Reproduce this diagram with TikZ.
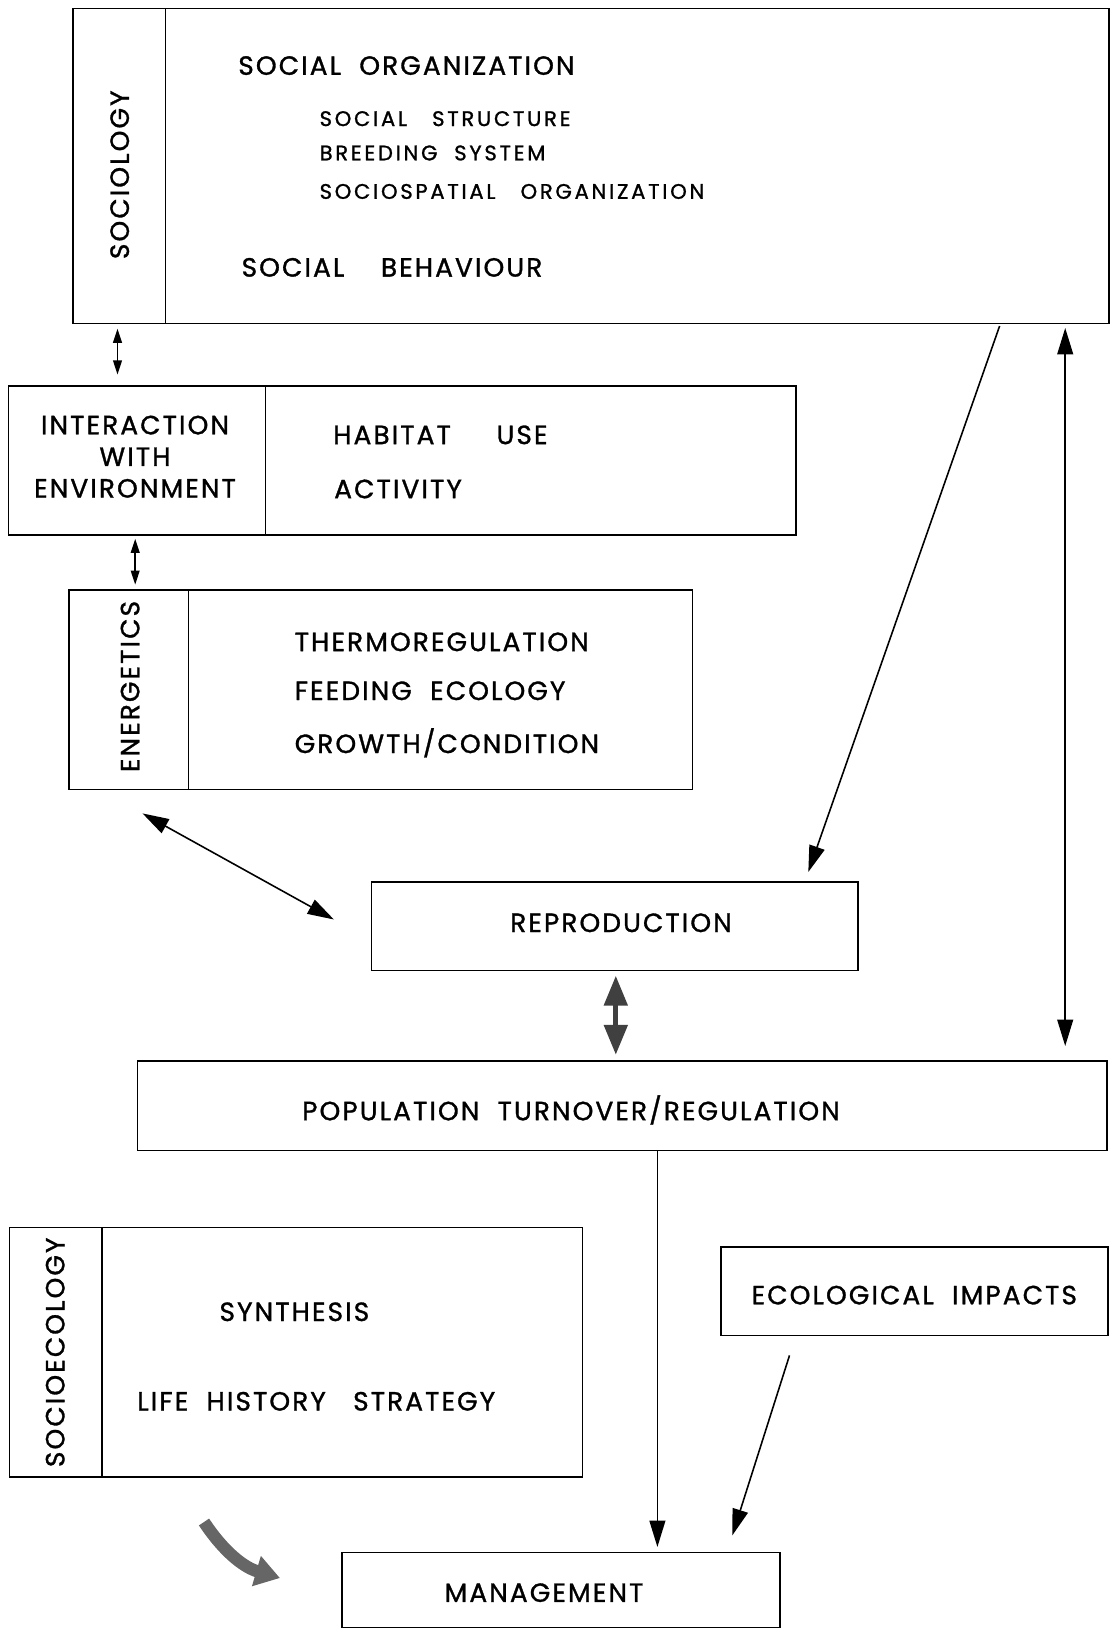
\documentclass[tikz,border=0pt]{standalone}
\usepackage{fontspec}
\setmainfont{Poppins}
\newfontfamily\capsfont[LetterSpace=8,FakeBold=1.2]{Poppins}
\newfontfamily\subfont[LetterSpace=13,FakeBold=1.2]{Poppins}
\usetikzlibrary{arrows.meta}

\begin{document}
\begin{tikzpicture}[x=0.02cm,y=-0.02cm,
  box/.style={draw,line width=0.9pt,inner sep=0pt},
  big/.style={font=\capsfont\fontsize{15}{18}\selectfont,inner sep=0pt,text depth=0pt},
  small/.style={font=\subfont\fontsize{12}{14}\selectfont,inner sep=0pt,text depth=0pt},
  thinarr/.style={line width=0.8pt,{Triangle[width=5pt,length=8pt]}-{Triangle[width=5pt,length=8pt]}},
  longarr/.style={line width=0.9pt,-{Triangle[width=9pt,length=15pt]}},
  dblarr/.style={line width=0.9pt,{Triangle[width=9pt,length=15pt]}-{Triangle[width=9pt,length=15pt]}},
  fatarr/.style={line width=3pt,black!75,{Triangle[width=13pt,length=17pt]}-{Triangle[width=13pt,length=17pt]}}]
\useasboundingbox (0,0) rectangle (1112,1631);
% boxes
\node[box,minimum width=20.72cm,minimum height=6.30cm] (sociology) at (590.85,165.9) {};
\draw[line width=0.9pt] (165.4,8.3) -- (165.4,323.5);
\node[box,minimum width=15.75cm,minimum height=2.98cm] (interaction) at (402.05,460.3) {};
\draw[line width=0.9pt] (265.3,385.9) -- (265.3,534.7);
\node[box,minimum width=12.48cm,minimum height=3.99cm] (energetics) at (380.75,689.65) {};
\draw[line width=0.9pt] (188.3,589.8) -- (188.3,789.5);
\node[box,minimum width=9.74cm,minimum height=1.77cm] (reproduction) at (614.8,926.3) {};
\node[box,minimum width=19.39cm,minimum height=1.79cm] (population) at (622.05,1105.75) {};
\node[box,minimum width=11.46cm,minimum height=4.99cm] (socioecology) at (295.95,1352.25) {};
\draw[line width=0.9pt] (101.9,1227.4) -- (101.9,1477.1);
\node[box,minimum width=7.74cm,minimum height=1.77cm] (impacts) at (914.35,1291.4) {};
\node[box,minimum width=8.76cm,minimum height=1.50cm] (management) at (561.2,1590) {};
% labels
\node[big,rotate=90] (soclbl) at (119.6,174.8) {SOCIOLOGY};
\node[big,anchor=west] (socorg) at (238,65.5) {SOCIAL~ ORGANIZATION};
\foreach \i/\y/\t in {1/118.6/SOCIAL~~ STRUCTURE,2/152.9/BREEDING~ SYSTEM,3/191.4/SOCIOSPATIAL~~ ORGANIZATION}
  \node[small,anchor=west] (sub\i) at (319.3,\y) {\t};
\node[big,anchor=west] (socbeh) at (241.3,267.3) {SOCIAL~~~ BEHAVIOUR};
\node[big,align=center] (intlbl) at (135,456.6) {INTERACTION\\WITH\\ENVIRONMENT};
\node[big,anchor=west] (habitat) at (332.9,434.8) {HABITAT~~~~ USE};
\node[big,anchor=west] (activity) at (333.9,488.9) {ACTIVITY};
\node[big,rotate=90] (enlbl) at (130,686.5) {ENERGETICS};
\foreach \i/\y/\t in {1/641.8/THERMOREGULATION,2/690.7/FEEDING~ ECOLOGY,3/740.6/{GROWTH/CONDITION}}
  \node[big,anchor=west] (en\i) at (294.4,\y) {\t};
\node[big] (replbl) at (621,922.7) {REPRODUCTION};
\node[big] (poplbl) at (571,1107.8) {POPULATION~ TURNOVER/REGULATION};
\node[big,rotate=90] (selbl) at (55.1,1352.3) {SOCIOECOLOGY};
\node[big] (synth) at (294.4,1311.7) {SYNTHESIS};
\node[big] (lifehist) at (316.2,1401.2) {LIFE~ HISTORY~~ STRATEGY};
\node[big] (implbl) at (914.3,1295) {ECOLOGICAL~ IMPACTS};
\node[big] (manlbl) at (544,1592.6) {MANAGEMENT};
% connectors
\coordinate (a1) at (117.5,328.7); \coordinate (a2) at (117.5,374.5);
\draw[thinarr] (a1) -- (a2);
\coordinate (b1) at (135.2,538.8); \coordinate (b2) at (135.2,584.6);
\draw[thinarr] (b1) -- (b2);
\coordinate (c1) at (142.5,813.4); \coordinate (c2) at (333.9,919.5);
\draw[dblarr] (c1) -- (c2);
\coordinate (d1) at (999.6,326); \coordinate (d2) at (808.3,872);
\draw[longarr] (d1) -- (d2);
\coordinate (e1) at (1065.2,328); \coordinate (e2) at (1065.2,1046);
\draw[dblarr] (e1) -- (e2);
\coordinate (f1) at (615.8,975.7); \coordinate (f2) at (615.8,1054.8);
\draw[fatarr] (f1) -- (f2);
\coordinate (g1) at (657.4,1150.5); \coordinate (g2) at (657.4,1547);
\draw[longarr] (g1) -- (g2);
\coordinate (h1) at (789.5,1355.4); \coordinate (h2) at (732.3,1535.4);
\draw[longarr] (h1) -- (h2);
\coordinate (k1) at (204,1522); \coordinate (k2) at (280,1578);
\draw[line width=7pt,black!60,-{Triangle[width=17pt,length=14pt]}] (k1) to[bend right=20] (k2);
\end{tikzpicture}
\end{document}
